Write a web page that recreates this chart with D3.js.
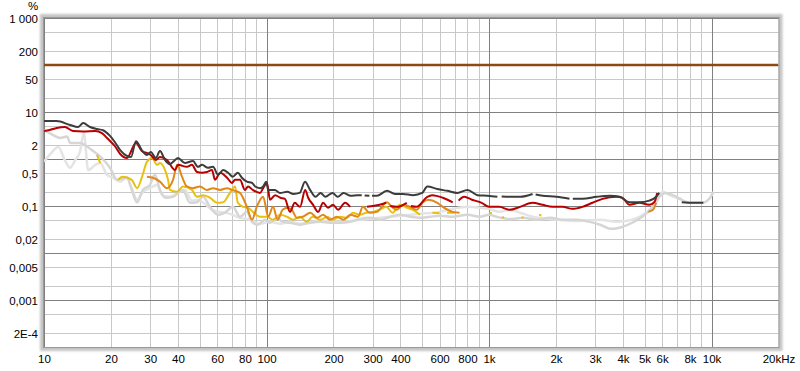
<!DOCTYPE html>
<html lang="en">
<head>
<meta charset="UTF-8">
<title>Distortion</title>
<script src="https://d3js.org/d3.v7.min.js"></script>
<style>
  body { margin: 0; background: #fff; }
  text { font-family: "Liberation Sans", Arial, sans-serif; font-size: 11.5px; fill: #000; }
</style>
</head>
<body>
<script>
  const width  = 800;
  const height = 371;
  const plot = {left: 44, right: 778.5, top: 18, bottom: 347};

  const freqTicks  = [10,20,30,40,60,80,100,200,300,400,600,800,1000,2000,3000,4000,5000,6000,8000,10000,20000];
  const freqLabels = ["10","20","30","40","60","80","100","200","300","400","600","800","1k","2k","3k","4k","5k","6k","8k","10k","20kHz"];
  const pctTicks   = [1000,200,50,10,2,0.5,0.1,0.02,0.005,0.001,0.0002];
  const pctLabels  = ["1 000","200","50","10","2","0,5","0,1","0,02","0,005","0,001","2E-4"];

  // [frequency Hz, %] ; null = gap in the trace
  const fundamental = [[10,100],[20000,100]];

  const thd = [[10,6.4],[11.4,6.4],[13.1,5.3],[14.2,4.8],[15,5.8],[16.1,4.8],[17.3,4.35],[18.4,4.1],[19.8,3.1],[20.8,2.3],
    [22,1.55],[23.6,1.16],[24.6,1.1],[25.9,2.4],[27.5,1.55],[29,1.22],[30.2,1.41],[31.8,1.05],[33.2,1.48],[35,0.95],
    [36.8,0.78],[38,0.87],[40,1.05],[43,0.82],[46.7,0.91],[49.2,0.68],[51.3,0.75],[54.6,0.65],[57.5,0.68],[60.6,0.46],
    [63.8,0.58],[67.2,0.51],[70.6,0.42],[74.3,0.51],[77.5,0.40],[81.6,0.33],[86.1,0.31],[88.9,0.26],[93.5,0.24],[96.6,0.26],
    [99.7,0.33],[101.8,0.22],[109,0.22],[115,0.19],[124,0.20],[132,0.18],[141,0.19],[149,0.33],[157,0.22],[166,0.157],
    [175,0.19],[184,0.157],[198,0.19],[209,0.157],[222,0.19],[239,0.165],[257,0.17],[268,0.17],null,[276,0.168],[290,0.165],
    null,[298,0.165],[313,0.165],[348,0.21],[378,0.18],[411,0.18],[456,0.17],[501,0.19],[528,0.26],[586,0.23],[650,0.21],
    [721,0.19],[800,0.22],[888,0.17],[985,0.165],[1090,0.157],null,[1140,0.16],[1240,0.157],[1380,0.157],[1570,0.18],null,
    [1620,0.175],[1740,0.165],[2010,0.157],[2300,0.142],null,[2380,0.142],[2630,0.142],[3050,0.157],[3490,0.165],[3870,0.157],
    [4280,0.12],[4740,0.12],[5250,0.13],[5640,0.157],[5820,0.19],null,[7350,0.12],[8300,0.117],[9190,0.117]];

  const h2 = [[10,3.94],[10.6,4.14],[11.4,4.57],[12.4,4.8],[13.5,3.94],[15,3.85],[17,3.94],[18.2,3.57],[19.2,2.8],[20.8,1.89],
    [22,1.28],[23.6,1.05],[25.9,2.2],[27.5,1.48],[29,1.34],[30.2,1.22],[31.8,0.95],[33.2,1.1],[35.7,0.95],[38.8,0.58],
    [40,0.75],[43.9,0.68],[46.2,0.75],[48.7,0.53],[51.3,0.51],[54,0.53],[56.9,0.58],[58.7,0.36],[61.9,0.51],[66.5,0.40],
    [69.9,0.31],[72.2,0.36],[76,0.36],[80,0.22],[82.6,0.26],[86.8,0.22],[93.5,0.19],[96.6,0.24],[100.5,0.31],[103.7,0.136],
    [109.4,0.17],[115.3,0.15],[121,0.142],[127.4,0.075],[134,0.117],[141.5,0.096],[149.2,0.22],[153.9,0.15],[162,0.106],[170.6,0.075],
    [179.6,0.117],[189,0.092],[199,0.106],[209.8,0.083],[225.5,0.117],[237.5,0.096],null,[283,0.096],[322,0.106],[345,0.117],
    null,[360,0.1],[385,0.096],[427,0.117],null,[445,0.1],[473,0.096],[528,0.157],[555,0.17],[620,0.15],[687,0.12],null,
    [730,0.13],[773,0.157],[838,0.136],[927,0.117],[1000,0.096],[1110,0.096],[1240,0.083],[1380,0.096],[1570,0.117],[1740,0.106],
    [1930,0.096],[2140,0.096],[2370,0.087],[2630,0.096],[2920,0.117],[3240,0.142],[3730,0.157],[3970,0.15],[4280,0.106],[4740,0.117],
    [5250,0.106],[5530,0.12],[5700,0.19]];

  const h3 = [[29,0.42],[30.9,0.40],[33.2,0.33],[35.7,0.24],[38,0.36],[39.7,0.75],[41.7,0.42],[43.9,0.26],[46.7,0.24],[50.2,0.26],
    [54,0.22],[57.5,0.24],[61.9,0.22],[66.5,0.24],[69.9,0.22],[76,0.19],[81.6,0.096],[86.1,0.051],[90.4,0.096],[96.6,0.157],
    [101.8,0.059],[106.9,0.096],[112.3,0.051],[118.1,0.083],[124.4,0.092],[130,0.083],[136.9,0.056],[145.5,0.059],[157.3,0.072],[169,0.056],
    [179.6,0.065],[192.6,0.051],[207,0.059],[222,0.051],[238,0.065],[258,0.059],[271,0.096],[291,0.072],[313,0.075],[348,0.12],
    [366,0.096],[385,0.083],[411,0.106],[441,0.096],[473,0.083],[505,0.12],[532,0.136],[586,0.117],[620,0.096],[687,0.075],
    [737,0.072],null,[5200,0.075],[5460,0.083],[5640,0.117]];

  const h4 = [[17.3,1.22],[17.9,0.82],null,[21.5,0.36],[22.6,0.42],[24.8,0.36],[26.2,0.24],[27.6,0.42],[29,0.87],[30.6,1.05],
    [32.2,0.75],[33.2,0.82],[35,0.58],[36.1,0.36],[36.8,0.22],[39.6,0.20],[42.1,0.26],[46.2,0.22],[48.7,0.157],[51.8,0.17],
    [55.7,0.15],[59.9,0.117],[63.8,0.12],[68.5,0.19],[72.2,0.26],[74.3,0.117],[78.5,0.096],[82.6,0.092],[86.8,0.075],[93.5,0.059],
    [100.5,0.059],[106.9,0.051],[115.3,0.065],[123.6,0.059],[131.6,0.051],[141.5,0.059],[151.5,0.046],[161,0.059],[174.9,0.051],[187.4,0.059],
    [198.9,0.051],[213.7,0.059],[230,0.056],[244.5,0.072],[262,0.065],[281,0.072],[301,0.075],[322,0.083],[345,0.096],[369,0.072],
    [398,0.106],[427,0.092],[455,0.083],[490,0.065],null,[557,0.072],[600,0.07],null,[648,0.072],[700,0.072],null,
    [1000,0.072],[1030,0.07],null,[1140,0.056],[1170,0.058],null,[1400,0.056],[1430,0.058],null,[1680,0.065],[1720,0.063]];

  const noise = [[10,4.14],[11,3.24],[11.8,2.8],[12.7,3.0],[13.1,2.2],[14.5,2.2],[16.4,1.55],[18.2,1.05],[19.8,0.65],[21.3,0.36],
    [23.6,0.40],[24.8,0.22],[26.2,0.12],[27.8,0.22],[29.9,0.28],[31.5,0.46],[33.2,0.22],[35,0.15],[38,0.157],[42.1,0.22],
    [45.3,0.117],[48.7,0.12],[51.8,0.157],[55.7,0.096],[60.6,0.065],[65,0.072],[70.6,0.096],[76,0.059],[81.6,0.075],[86.1,0.046],
    [91.5,0.040],[98.6,0.051],[103.7,0.044],[111.3,0.056],[118.1,0.046],[127.4,0.044],[141.5,0.040],[157.3,0.044],[174.9,0.046],[192.6,0.044],
    [213.7,0.044],[237.5,0.046],[263.5,0.053],[292.6,0.056],[324.7,0.051],[360,0.059],[398,0.065],[441,0.059],[490,0.056],[542,0.059],
    [601,0.062],[687,0.059],[800,0.065],[909,0.059],[1000,0.065],[1080,0.059],[1240,0.053],[1420,0.056],[1640,0.051],[1880,0.056],
    [2140,0.051],[2490,0.051],[2840,0.046],[3160,0.040],[3490,0.033],[3660,0.033],[3970,0.036],[4400,0.044],[4880,0.059],[5400,0.092],
    [5820,0.157],[6220,0.19],[6720,0.17],[7300,0.136],[8000,0.117],[9060,0.117],[9860,0.15],[10200,0.20]];

  const h5 = [[10,0.87],[10.6,1.22],[11.6,1.8],[12.4,0.95],[13.1,0.65],[13.8,0.95],[14.5,1.41],[15.1,3.57],[15.8,0.58],[17,0.75],
    [17.9,0.82],[19.2,0.46],[20.4,0.40],[22,0.33],[23.6,0.40],[24.8,0.24],[26.2,0.136],[27.8,0.20],[29.9,0.24],[32.2,0.28],
    [34.2,0.165],[36.8,0.157],[40,0.19],[43,0.22],[46.2,0.13],[49.2,0.136],[52.8,0.112],[56.9,0.083],[61.9,0.075],[68.5,0.068],
    [76,0.056],[84.1,0.051],[93.5,0.042],[103.7,0.046],[115.3,0.042],[127.4,0.046],[141.5,0.042],[174.9,0.048],[213.7,0.046],[263.5,0.051],
    [324.7,0.056],[398,0.062],[490,0.068],[601,0.075],[687,0.087],[800,0.096],[909,0.092],[1000,0.087],[1110,0.075],[1240,0.083],
    [1380,0.072],[1570,0.059],[1880,0.053],[2490,0.048],[3160,0.051],[3730,0.046],[4400,0.051],[5080,0.072],[5640,0.117],[6040,0.20],
    [6490,0.17],[7000,0.15],[7350,0.142]];

  const series = [
    {data: h5,          color: "#e4e4e4", w: 2.5},
    {data: noise,       color: "#d6d6d6", w: 2.5},
    {data: h4,          color: "#e8c010", w: 2},
    {data: h3,          color: "#e0881a", w: 2},
    {data: h2,          color: "#b80000", w: 2},
    {data: thd,         color: "#3c3c3c", w: 2},
    {data: fundamental, color: "#8b4a14", w: 2.5}
  ];

  const x = d3.scaleLog().domain([10, 20000]).range([plot.left, plot.right]);
  const y = d3.scaleLog().domain([0.0001, 1000]).range([plot.bottom, plot.top]);

  const svg = d3.select("body").append("svg").attr("width", width).attr("height", height);

  // frame with soft shadow
  const defs = svg.append("defs");
  defs.append("filter").attr("id", "soft").append("feGaussianBlur").attr("stdDeviation", 1.2);
  defs.append("clipPath").attr("id", "clip").append("rect")
      .attr("x", plot.left).attr("y", plot.top)
      .attr("width", plot.right - plot.left).attr("height", plot.bottom - plot.top);

  svg.append("rect")
      .attr("x", plot.left - 4).attr("y", plot.top - 4)
      .attr("width", plot.right - plot.left + 8).attr("height", plot.bottom - plot.top + 8)
      .attr("fill", "#c4c4c4").attr("filter", "url(#soft)");
  svg.append("rect")
      .attr("x", plot.left).attr("y", plot.top)
      .attr("width", plot.right - plot.left).attr("height", plot.bottom - plot.top)
      .attr("fill", "#fff");

  // grid
  const xGrid = [];
  [10, 100, 1000, 10000].forEach(dec => d3.range(1, 10).forEach(k => { if (dec * k <= 20000) xGrid.push(dec * k); }));
  xGrid.push(20000);
  const yGrid = [];
  [-4, -3, -2, -1, 0, 1, 2, 3].forEach(e => [1, 2, 5].forEach(k => { const v = k * Math.pow(10, e); if (v <= 1000) yGrid.push(+v.toPrecision(3)); }));
  const isDecade = v => Math.abs(Math.log10(v) - Math.round(Math.log10(v))) < 1e-6;

  const grid = svg.append("g").attr("shape-rendering", "crispEdges");
  grid.selectAll(".gx").data(xGrid.filter(v => !isDecade(v) || v === 20000)).enter().append("line")
      .attr("x1", d => Math.round(x(d)) + 0.5).attr("x2", d => Math.round(x(d)) + 0.5)
      .attr("y1", plot.top).attr("y2", plot.bottom).attr("stroke", "#c8c8c8");
  grid.selectAll(".gy").data(yGrid.filter(v => !isDecade(v))).enter().append("line")
      .attr("y1", d => Math.round(y(d)) + 0.5).attr("y2", d => Math.round(y(d)) + 0.5)
      .attr("x1", plot.left).attr("x2", plot.right).attr("stroke", "#c8c8c8");
  grid.selectAll(".gxd").data(xGrid.filter(v => isDecade(v))).enter().append("line")
      .attr("x1", d => Math.round(x(d)) + 0.5).attr("x2", d => Math.round(x(d)) + 0.5)
      .attr("y1", plot.top).attr("y2", plot.bottom).attr("stroke", "#808080");
  grid.selectAll(".gyd").data(yGrid.filter(v => isDecade(v))).enter().append("line")
      .attr("y1", d => Math.round(y(d)) + 0.5).attr("y2", d => Math.round(y(d)) + 0.5)
      .attr("x1", plot.left).attr("x2", plot.right).attr("stroke", "#808080");

  // traces
  const line = d3.line()
      .defined(d => d !== null)
      .x(d => x(d[0]))
      .y(d => y(d[1]))
      .curve(d3.curveMonotoneX);

  const traces = svg.append("g").attr("clip-path", "url(#clip)");
  series.forEach(s => {
    traces.append("path")
        .datum(s.data)
        .attr("d", line)
        .attr("fill", "none")
        .attr("stroke", s.color)
        .attr("stroke-width", s.w)
        .attr("stroke-linejoin", "round");
  });

  // plot border
  svg.append("rect")
      .attr("x", plot.left - 0.5).attr("y", plot.top - 0.5)
      .attr("width", plot.right - plot.left + 1).attr("height", plot.bottom - plot.top + 1)
      .attr("fill", "none").attr("stroke", "#9a9a9a");

  // axes
  const xAxis = d3.axisBottom(x).tickValues(freqTicks)
      .tickFormat((d, i) => freqLabels[i]).tickSize(0).tickPadding(7);
  const yAxis = d3.axisLeft(y).tickValues(pctTicks)
      .tickFormat((d, i) => pctLabels[i]).tickSize(0).tickPadding(5);

  const gx = svg.append("g").attr("transform", "translate(" + [0, plot.bottom + 1] + ")").call(xAxis);
  const gy = svg.append("g").attr("transform", "translate(" + [plot.left - 1, 1] + ")").call(yAxis);
  [gx, gy].forEach(g => {
    g.select(".domain").remove();
    g.selectAll("text").attr("font-family", "'Liberation Sans', Arial, sans-serif").attr("font-size", 11.5).attr("fill", "#000");
  });

  svg.append("text").attr("x", 33).attr("y", 10).attr("text-anchor", "middle").text("%");
</script>
</body>
</html>
